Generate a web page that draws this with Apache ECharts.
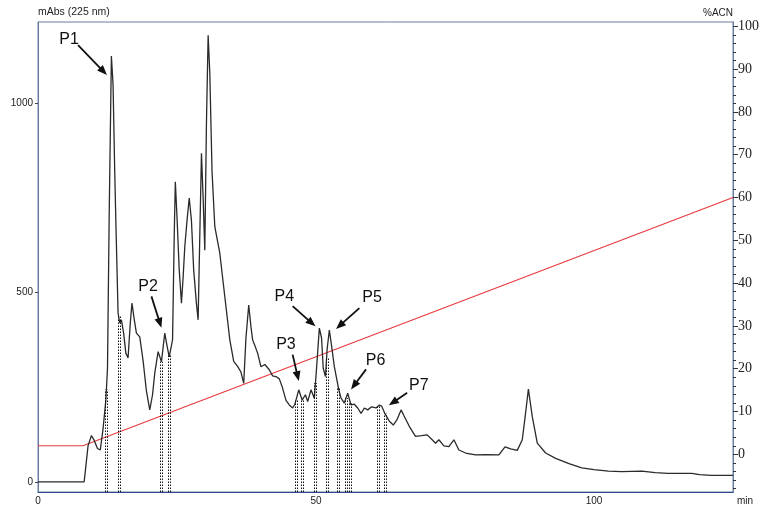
<!DOCTYPE html>
<html>
<head>
<meta charset="utf-8">
<script src="https://cdn.jsdelivr.net/npm/echarts@6/dist/echarts.min.js"></script>
<style>
  html, body { margin: 0; padding: 0; background: #ffffff; }
  #chart { width: 762px; height: 506px; }
</style>
</head>
<body>
<div id="chart"></div>
<script>
// RP-HPLC trace: absorbance at 225 nm against retention time (min)
const retentionTime = [
  0, 8.3, 8.6, 9.0, 9.6, 10.1, 10.7, 11.2, 11.7, 12.2,
  12.5, 12.8, 13.2, 13.5, 13.8, 14.0, 14.4, 14.7, 15.0, 15.4,
  15.8, 16.2, 16.6, 16.9, 17.3, 17.7, 18.3, 18.9, 19.5, 20.1,
  20.6, 21.0, 21.6, 22.2, 22.8, 23.2, 23.6, 24.2, 24.5, 24.7,
  25.0, 25.4, 25.8, 26.1, 26.4, 26.8, 27.2, 27.6, 28.0, 28.5,
  28.8, 29.1, 29.4, 29.7, 30.0, 30.3, 30.6, 30.9, 31.3, 31.8,
  32.7, 33.6, 34.5, 35.2, 35.5, 35.9, 36.5, 37.0, 37.4, 37.9,
  38.3, 38.6, 39.0, 39.5, 40.1, 40.8, 41.6, 42.2, 42.8, 43.4,
  43.9, 44.6, 45.2, 45.8, 46.2, 46.9, 47.5, 48.1, 48.5, 49.1,
  49.7, 50.1, 50.6, 51.0, 51.3, 51.7, 52.0, 52.4, 52.8, 53.3,
  54.1, 54.5, 55.1, 55.7, 56.3, 56.9, 57.5, 58.1, 58.7, 59.3,
  60.0, 60.8, 61.4, 61.8, 62.4, 63.2, 63.9, 64.6, 65.3, 65.8,
  66.8, 67.9, 69.0, 70.0, 70.9, 71.5, 72.1, 73.0, 73.9, 74.8,
  75.7, 76.9, 78.7, 80.5, 82.9, 84.0, 85.0, 86.2, 87.1, 87.6,
  88.2, 88.9, 89.8, 91.3, 93.1, 95.5, 97.8, 100, 102.6, 105,
  108.6, 111, 113.3, 117.6, 119, 121.1, 125
];
const absorbance = [
  0, 0, 40, 95, 122, 110, 88, 84, 140, 215,
  300, 700, 1125, 1050, 820, 690, 446, 420, 428, 393,
  340, 327, 420, 472, 430, 393, 383, 320, 240, 190,
  230, 287, 344, 317, 393, 360, 330, 375, 650, 793,
  700, 560, 472, 540, 621, 690, 750, 690, 560, 470,
  428, 650, 868, 750, 612, 950, 1180, 1080, 820, 674,
  604, 489, 375, 318, 322, 305, 290, 260, 380, 467,
  410, 375, 360, 340, 304, 310, 296, 280, 278, 272,
  252, 215, 203, 195, 205, 243, 216, 230, 212, 243,
  221, 300, 406, 380, 300, 278, 350, 401, 360, 304,
  243, 221, 208, 234, 203, 205, 195, 181, 195, 190,
  198, 195, 203, 200, 180, 160, 150, 165, 190, 175,
  146, 120, 122, 124, 111, 102, 111, 95, 93, 111,
  84, 76, 71, 72, 71, 92, 87, 83, 111, 170,
  245, 172, 102, 76, 62, 48, 37, 32, 28, 27,
  28, 24, 22, 22, 19, 17, 17
];

// Acetonitrile gradient program
const gradientTime = [0, 8.1, 125];
const gradientACN = [2, 2, 60];

// Fraction collection cut points (min)
const fractionCuts = [12.3, 14.5, 22.2, 23.5, 46.4, 47.5, 49.9, 51.9, 54.0, 55.4, 56.2, 61.2, 62.4];

// Peak annotations: label, label position, arrow tail, arrow head (time, mAbs)
const peakNames = ['P1', 'P2', 'P3', 'P4', 'P5', 'P6', 'P7'];
const peakLabelAt = [[5.6, 1169], [19.8, 516], [44.6, 363], [44.3, 490], [60.1, 486], [60.7, 319], [68.5, 253]];
const peakArrowFrom = [[7.2, 1154], [20.4, 490], [45.8, 336], [45.8, 464], [57.8, 459], [59.0, 297], [66.4, 235]];
const peakArrowTo = [[12.4, 1075], [22.2, 407], [46.9, 266], [49.9, 411], [53.6, 404], [56.3, 244], [63.1, 202]];

// Axis ticks
const timeTicks = [0, 50, 100];
const absTicks = [0, 500, 1000];
const acnTicks = [0, 10, 20, 30, 40, 50, 60, 70, 80, 90, 100];
const acnMinorTicks = [-8, -6, -4, -2, 0, 2, 4, 6, 8, 10, 12, 14, 16, 18, 20, 22, 24, 26, 28, 30, 32, 34, 36, 38, 40,
  42, 44, 46, 48, 50, 52, 54, 56, 58, 60, 62, 64, 66, 68, 70, 72, 74, 76, 78, 80, 82, 84, 86, 88, 90, 92, 94, 96, 98, 100];

const ABS_MIN = -27, ABS_MAX = 1215;
const ACN_MIN = -8.8, ACN_MAX = 101;
const SANS = '"Liberation Sans", Arial, sans-serif';
const SERIF = '"Liberation Serif", "Times New Roman", serif';
const FRAME = '#6b7ca3';

const trace = retentionTime.map((t, i) => [t, absorbance[i]]);
const gradient = gradientTime.map((t, i) => [t, gradientACN[i]]);

function absorbanceAt(t) {
  for (let i = 1; i < retentionTime.length; i++) {
    if (t <= retentionTime[i]) {
      const t0 = retentionTime[i - 1], t1 = retentionTime[i];
      const f = (t - t0) / (t1 - t0);
      return absorbance[i - 1] + f * (absorbance[i] - absorbance[i - 1]);
    }
  }
  return absorbance[absorbance.length - 1];
}

const cutData = fractionCuts.map(t => [t, absorbanceAt(t)]);
const peakData = peakNames.map((n, i) => ({
  name: n,
  value: [peakLabelAt[i][0], peakLabelAt[i][1], peakArrowFrom[i][0], peakArrowFrom[i][1], peakArrowTo[i][0], peakArrowTo[i][1]]
}));

const plainNumber = v => String(v);

const chart = echarts.init(document.getElementById('chart'), null, { renderer: 'canvas' });

chart.setOption({
  animation: false,
  backgroundColor: '#ffffff',
  grid: { left: 38, right: 27, top: 22, bottom: 14, show: true, borderColor: FRAME, borderWidth: 1, backgroundColor: 'transparent' },
  xAxis: {
    type: 'value', min: 0, max: 125,
    name: 'min', nameLocation: 'end', nameGap: 4,
    nameTextStyle: { fontFamily: SANS, fontSize: 10, color: '#222', verticalAlign: 'top', padding: [4, 0, 0, 0] },
    axisLine: { show: true, onZero: false, lineStyle: { color: '#2d4b8e', width: 1.2 } },
    axisTick: { show: false },
    splitLine: { show: false },
    axisLabel: { customValues: timeTicks, formatter: plainNumber, fontFamily: SANS, fontSize: 10, color: '#222', margin: 4 }
  },
  yAxis: [
    {
      type: 'value', position: 'left', min: ABS_MIN, max: ABS_MAX,
      name: 'mAbs (225 nm)', nameLocation: 'end', nameGap: 4,
      nameTextStyle: { fontFamily: SANS, fontSize: 10.5, color: '#222', align: 'left', verticalAlign: 'bottom' },
      axisLine: { show: true, onZero: false, lineStyle: { color: FRAME, width: 1 } },
      axisTick: { show: true, customValues: absTicks, length: 3, lineStyle: { color: '#444' } },
      axisLabel: { customValues: absTicks, formatter: plainNumber, fontFamily: SANS, fontSize: 10, color: '#222', margin: 5 },
      splitLine: { show: false }
    },
    {
      type: 'value', position: 'right', min: ACN_MIN, max: ACN_MAX,
      name: '%ACN', nameLocation: 'end', nameGap: 4,
      nameTextStyle: { fontFamily: SANS, fontSize: 10, color: '#222', align: 'right', verticalAlign: 'bottom' },
      axisLine: { show: true, onZero: false, lineStyle: { color: FRAME, width: 1 } },
      axisTick: { show: true, customValues: acnTicks, length: 5, lineStyle: { color: '#333' } },
      axisLabel: { customValues: acnTicks, formatter: plainNumber, fontFamily: SERIF, fontSize: 14, color: '#222', margin: 5 },
      splitLine: { show: false }
    },
    {
      type: 'value', position: 'right', min: ACN_MIN, max: ACN_MAX,
      axisLine: { show: true, onZero: false, lineStyle: { color: FRAME, width: 1 } },
      axisTick: { show: true, customValues: acnMinorTicks, length: 3, lineStyle: { color: '#333' } },
      axisLabel: { show: true, customValues: acnMinorTicks, formatter: () => '' },
      splitLine: { show: false }
    }
  ],
  series: [
    {
      name: '%ACN', type: 'line', yAxisIndex: 1, data: gradient,
      showSymbol: false, symbol: 'none',
      lineStyle: { color: '#e8383d', width: 1.1 }, z: 2
    },
    {
      name: 'A225', type: 'line', yAxisIndex: 0, data: trace,
      showSymbol: false, symbol: 'none',
      lineStyle: { color: '#2a2a2a', width: 1.3 }, z: 3
    },
    {
      name: 'fractions', type: 'custom', yAxisIndex: 0, data: cutData, z: 4,
      renderItem(params, api) {
        const t = api.value(0), v = api.value(1);
        const p0 = api.coord([t, ABS_MIN]);
        const p1 = api.coord([t, v]);
        const cx = Math.round(p0[0]);
        return {
          type: 'group',
          children: [-1, 1].map(dx => ({
            type: 'line',
            shape: { x1: cx + dx + 0.5, y1: p0[1], x2: cx + dx + 0.5, y2: p1[1] },
            style: { stroke: '#111', lineWidth: 1, lineDash: [1.5, 1.5] }
          }))
        };
      }
    },
    {
      name: 'peaks', type: 'custom', yAxisIndex: 0, data: peakData, z: 5,
      renderItem(params, api) {
        const lp = api.coord([api.value(0), api.value(1)]);
        const a = api.coord([api.value(2), api.value(3)]);
        const b = api.coord([api.value(4), api.value(5)]);
        const dx = b[0] - a[0], dy = b[1] - a[1];
        const len = Math.sqrt(dx * dx + dy * dy);
        const ux = dx / len, uy = dy / len;
        const headLen = 10, headHalf = 4;
        const bx = b[0] - ux * headLen, by = b[1] - uy * headLen;
        return {
          type: 'group',
          children: [
            {
              type: 'line',
              shape: { x1: a[0], y1: a[1], x2: bx + ux * 1, y2: by + uy * 1 },
              style: { stroke: '#111', lineWidth: 1.8 }
            },
            {
              type: 'polygon',
              shape: { points: [[b[0], b[1]], [bx - uy * headHalf, by + ux * headHalf], [bx + uy * headHalf, by - ux * headHalf]] },
              style: { fill: '#111' }
            },
            {
              type: 'text',
              x: lp[0], y: lp[1],
              style: {
                text: peakNames[params.dataIndex],
                fontFamily: SANS, fontSize: 16, fill: '#111',
                align: 'center', verticalAlign: 'middle'
              }
            }
          ]
        };
      }
    }
  ]
});
</script>
</body>
</html>
